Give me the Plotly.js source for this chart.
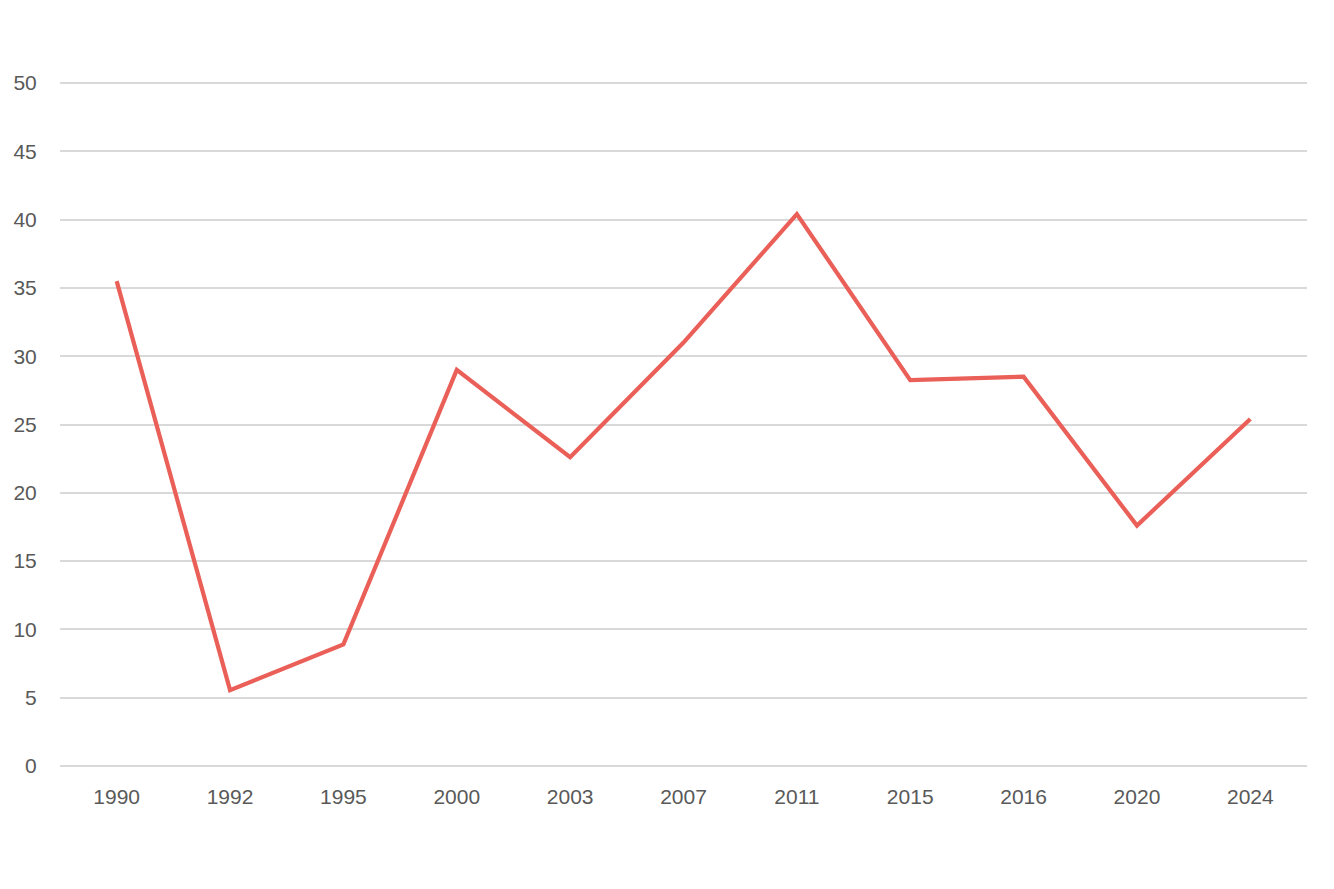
<!DOCTYPE html>
<html>
<head>
<meta charset="utf-8">
<script src="https://cdn.plot.ly/plotly-3.0.1.min.js"></script>
<style>
  html, body { margin: 0; padding: 0; background: #fff; }
  #chart { width: 1334px; height: 889px; }
</style>
</head>
<body>
<div id="chart"></div>
<script>
var years = ["1990", "1992", "1995", "2000", "2003", "2007", "2011", "2015", "2016", "2020", "2024"];
var values = [35.5, 5.55, 8.9, 29.0, 22.6, 31.0, 40.4, 28.25, 28.5, 17.6, 25.4];
var yTicks = [0, 5, 10, 15, 20, 25, 30, 35, 40, 45, 50];

var data = [
    {
        type: "scatter",
        mode: "lines",
        x: years,
        y: values,
        line: {
            color: "#ea5f57",
            width: 4.2
        },
        hoverinfo: "x+y"
    }
]

var layout = {
    width: 1334,
    height: 889,
    showlegend: false,
    paper_bgcolor: "#ffffff",
    plot_bgcolor: "#ffffff",
    // a little room past 0 and 50 so the edge gridlines are drawn
    margin: {l: 60, r: 27, t: 80, b: 120},
    font: {
        family: "Liberation Sans, Arial, sans-serif",
        size: 21,
        color: "#595959"
    },
    xaxis: {
        type: "category",
        range: [-0.5, 10.5],
        showgrid: false,
        showline: false,
        zeroline: false,
        ticks: "outside",
        ticklen: 0,
        ticklabelstandoff: 9
    },
    yaxis: {
        range: [-0.22, 50.22],
        tickvals: yTicks,
        showgrid: true,
        gridcolor: "#d9d9d9",
        gridwidth: 1.5,
        zeroline: false,
        showline: false,
        ticks: "outside",
        ticklen: 0,
        ticklabelstandoff: 18
    }
}

Plotly.newPlot("chart", data, layout, {displayModeBar: false})
</script>
</body>
</html>
